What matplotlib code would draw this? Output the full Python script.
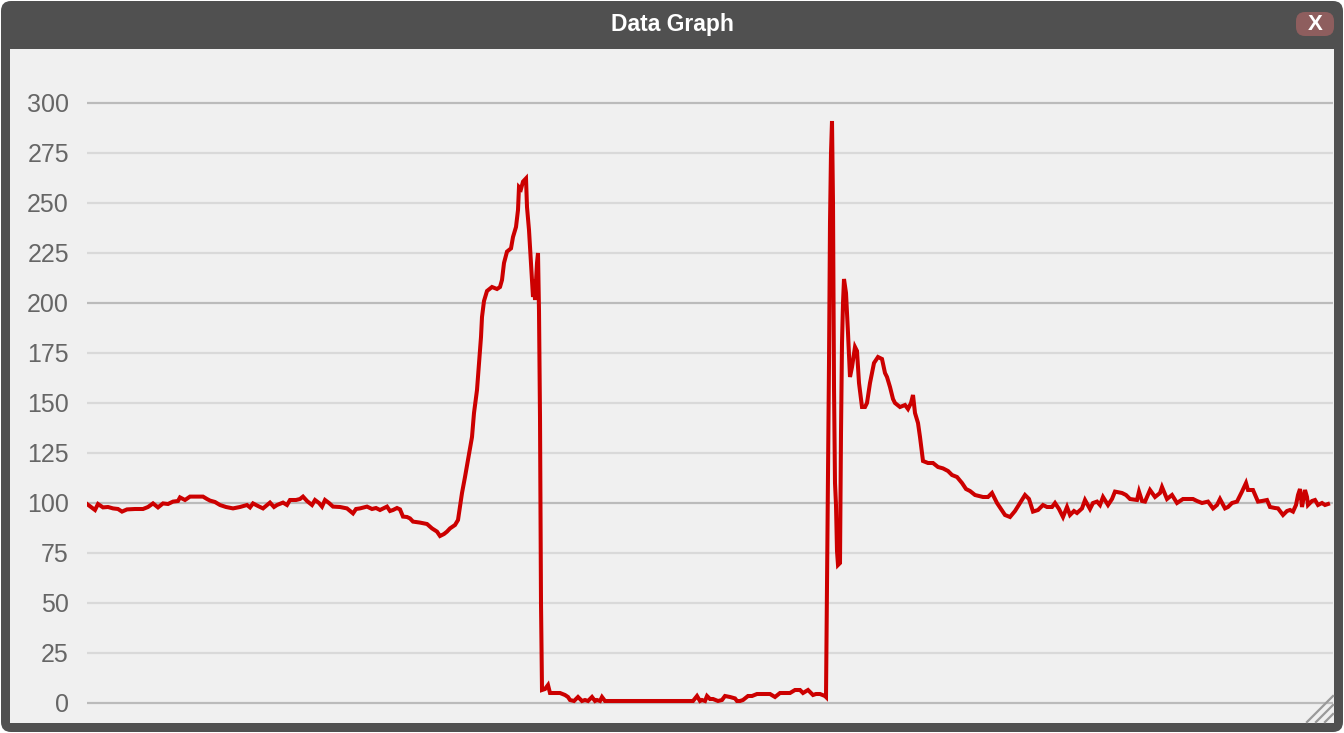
import numpy as np
import matplotlib.pyplot as plt
from matplotlib.patches import FancyBboxPatch, Rectangle
from matplotlib.lines import Line2D

plt.rcParams['font.family'] = ['Liberation Sans', 'DejaVu Sans']

# sample position and reading
t = [87, 91, 95, 98, 103, 108, 113, 118, 122, 127, 135, 143, 148, 153, 158, 163, 168, 173,
     178, 180, 185, 190, 196, 203, 207, 210, 215, 220, 226, 233, 240, 247, 250, 253, 258,
     263, 270, 274, 277, 283, 287, 290, 296, 300, 303, 307, 312, 315, 319, 322, 325, 329,
     333, 340, 347, 353, 356, 360, 367, 372, 376, 380, 387, 390, 393, 397, 400, 403, 407,
     410, 413, 416, 420, 427, 432, 437, 440, 444, 447, 450, 455, 458, 460, 462, 465, 468,
     472, 474, 477, 479, 481, 482, 484, 487, 492, 497, 500, 502, 504, 507, 511, 513, 516,
     518, 519, 521, 523, 526, 527, 529, 531, 533, 534, 535, 537, 538, 539, 540, 541, 542,
     545, 548, 550, 555, 560, 565, 568, 570, 574, 578, 582, 585, 588, 592, 595, 597, 600,
     602, 605, 607, 650, 693, 697, 700, 702, 705, 707, 710, 713, 718, 722, 725, 730, 735,
     737, 740, 743, 748, 752, 757, 765, 770, 775, 780, 785, 790, 795, 800, 803, 808, 813,
     816, 820, 825, 826, 827, 829, 830, 831, 832, 833, 834, 835, 836, 837, 838, 840, 841,
     842, 843, 844, 846, 848, 850, 852, 855, 857, 859, 862, 865, 867, 870, 874, 878, 882,
     885, 887, 890, 893, 895, 900, 905, 908, 911, 913, 915, 918, 920, 923, 928, 933, 938,
     943, 948, 952, 957, 962, 966, 970, 975, 983, 988, 992, 997, 1001, 1005, 1010, 1015,
     1020, 1025, 1029, 1033, 1038, 1043, 1047, 1052, 1055, 1059, 1063, 1067, 1070, 1074,
     1077, 1082, 1085, 1090, 1093, 1097, 1100, 1103, 1108, 1112, 1115, 1122, 1126, 1130,
     1137, 1139, 1142, 1145, 1150, 1155, 1160, 1162, 1167, 1172, 1177, 1180, 1183, 1188,
     1193, 1197, 1202, 1208, 1213, 1217, 1220, 1225, 1228, 1232, 1237, 1242, 1246, 1248,
     1253, 1258, 1262, 1267, 1270, 1275, 1278, 1283, 1287, 1290, 1293, 1296, 1298, 1300,
     1302, 1305, 1307, 1308, 1312, 1315, 1318, 1322, 1325, 1328]
v = [99.5, 98, 96.5, 99.5, 97.8, 98, 97.3, 97, 95.7, 96.8, 97, 97, 98, 99.8, 97.8, 99.8,
     99.5, 100.7, 101, 102.8, 101.5, 103.2, 103.2, 103.2, 102, 101.2, 100.5, 99, 98, 97.3,
     98, 99, 97.8, 99.8, 98.5, 97.3, 100.2, 98, 99, 100.2, 99, 101.5, 101.5, 102, 103.2,
     101, 99, 101.5, 100, 98.2, 101.5, 100, 98.2, 98, 97.3, 94.8, 97, 97.3, 98.2, 97, 97.5,
     96.5, 98.2, 96, 96.5, 97.5, 96.8, 93.2, 93, 92.3, 90.7, 90.5, 90.2, 89.5, 87.3, 85.7,
     83.5, 84.5, 85.7, 87.3, 89, 91.5, 98.2, 105, 113, 121.5, 133, 145, 156.5, 170, 183,
     193, 201, 206, 208, 207, 208, 211.5, 220, 225.7, 227.3, 233, 238, 246.5, 258, 257,
     260.7, 262.3, 248, 236.5, 220, 203, 211.5, 201.5, 220, 225, 196, 143, 50, 6.5, 7, 9,
     5, 5, 5, 4, 3, 1.5, 1, 3, 1, 1.5, 1, 3, 1, 1.5, 1, 3, 1, 1, 1, 1, 3.5, 1, 1.5, 1, 3.5,
     2, 2, 1, 1.5, 3.5, 3, 2.3, 1, 1, 1.5, 3.5, 3.5, 4.5, 4.5, 4.5, 3, 5, 5, 5, 6.5, 6.5,
     5, 6.5, 4, 4.5, 4.5, 3.5, 3, 60, 170, 240, 275, 291, 250, 158, 110, 99, 76, 69, 70,
     135, 180, 200, 212, 205, 185, 163, 168, 178, 176, 160, 148, 148, 150, 160, 170, 173,
     172, 165, 163, 158, 152, 150, 148, 149, 147, 150, 154, 145, 140, 133, 121, 120, 120,
     118, 117.3, 116, 114, 113, 110, 107, 106, 104, 103, 103, 105, 100, 97, 94, 93, 96, 100,
     104, 102, 95.7, 96.5, 99, 98, 98, 100, 97, 93, 98, 94, 96, 95, 97.3, 101.5, 97, 100,
     100.7, 99, 103, 99, 102, 105.7, 105, 104, 102, 101.5, 105.7, 101, 100.7, 106.5, 103,
     105, 108, 102, 104, 100, 101, 102, 102, 102, 101, 100, 100.7, 97.3, 99, 102, 97.3, 98,
     100, 100.7, 105.7, 110, 106.5, 106.5, 100.7, 101, 101.5, 98, 97.5, 97.3, 94, 96, 96.5,
     95.7, 99, 104, 107, 98, 106.5, 103, 99, 101, 101.5, 99, 100, 99, 99.5]
yticks = list(range(0, 301, 25))

W, H = 1344, 733
fig = plt.figure(figsize=(W / 100, H / 100), dpi=100, facecolor='white')
px = fig.dpi_scale_trans


def box(x0, ytop, x1, ybot, color, r=0.0):
    # pixel coords measured from top-left
    p = FancyBboxPatch((x0 / 100, (H - ybot) / 100), (x1 - x0) / 100, (ybot - ytop) / 100,
                       boxstyle=f"round,pad=0,rounding_size={r / 100}", transform=px,
                       facecolor=color, edgecolor='none', zorder=-10)
    fig.patches.append(p)


# window frame, title bar and panel
box(1, 1, 1343, 732, '#505050', 10)
box(10, 49, 1334, 723, '#f0f0f0', 0)
box(1296, 12, 1334, 36, '#8e5e5e', 9)
fig.text(0.5, 1 - 25 / H, 'Data Graph', ha='center', va='center', color='white',
         fontsize=16.5, fontweight='bold')
fig.text(1315 / W, 1 - 24 / H, 'X', ha='center', va='center', color='white',
         fontsize=16, fontweight='bold')

# resize grip
for k in (0, 9, 18):
    fig.lines.append(Line2D([(1307 + k) / 100, 1333 / 100], [(H - 722) / 100, (H - 696 - k) / 100],
                            transform=px, color='#9a9a9a', lw=1.6))

ax = fig.add_axes([87 / W, (H - 723) / H, (1333 - 87) / W, (723 - 49) / H])
ax.patch.set_alpha(0)
ax.set_xlim(87, 1333)
ax.set_ylim(-10, 327)
for y in yticks:
    ax.axhline(y, color='#bbbbbb' if y % 100 == 0 else '#d9d9d9', lw=1.6, zorder=1)
ax.plot(t, v, color='#cc0000', lw=2.9, zorder=3, solid_joinstyle='miter')

ax.set_yticks(yticks)
ax.set_yticklabels([str(y) for y in yticks])
ax.tick_params(axis='y', length=0, pad=13, labelsize=18, labelcolor='#666666')
ax.set_xticks([])
for s in ax.spines.values():
    s.set_visible(False)

fig.savefig('out.png', dpi=100, facecolor='white')
